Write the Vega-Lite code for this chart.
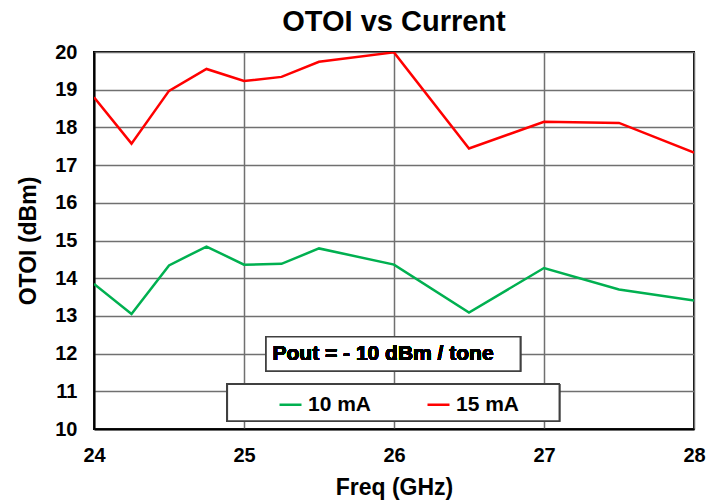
{
  "$schema": "https://vega.github.io/schema/vega-lite/v6.json",
  "width": 600,
  "height": 377,
  "autosize": {"type": "none"},
  "padding": {"left": 94, "top": 52, "right": 30, "bottom": 75},
  "background": "white",
  "title": {"text": "OTOI vs Current", "fontSize": 29, "font": "Liberation Sans", "fontWeight": "bold", "color": "black", "offset": 5, "anchor": "middle"},
  "config": {
    "font": "Liberation Sans",
    "view": {"stroke": "black", "strokeWidth": 2},
    "axis": {
      "domainColor": "black", "domainWidth": 2,
      "gridColor": "#707070", "gridWidth": 1.5, "gridOpacity": 1,
      "tickSize": 0, "labelOverlap": false, "labelFlush": false,
      "labelFont": "Liberation Sans", "labelFontSize": 20, "labelFontWeight": "bold", "labelColor": "black",
      "titleFont": "Liberation Sans", "titleFontSize": 23, "titleFontWeight": "bold", "titleColor": "black"
    }
  },
  "datasets": {
    "main": [
      {"freq": 24, "otoi": 13.85, "series": "10 mA"},
      {"freq": 24.25, "otoi": 13.05, "series": "10 mA"},
      {"freq": 24.5, "otoi": 14.34, "series": "10 mA"},
      {"freq": 24.75, "otoi": 14.84, "series": "10 mA"},
      {"freq": 25, "otoi": 14.36, "series": "10 mA"},
      {"freq": 25.25, "otoi": 14.38, "series": "10 mA"},
      {"freq": 25.5, "otoi": 14.79, "series": "10 mA"},
      {"freq": 26, "otoi": 14.36, "series": "10 mA"},
      {"freq": 26.5, "otoi": 13.09, "series": "10 mA"},
      {"freq": 27, "otoi": 14.27, "series": "10 mA"},
      {"freq": 27.5, "otoi": 13.7, "series": "10 mA"},
      {"freq": 28, "otoi": 13.41, "series": "10 mA"},
      {"freq": 24, "otoi": 18.8, "series": "15 mA"},
      {"freq": 24.25, "otoi": 17.57, "series": "15 mA"},
      {"freq": 24.5, "otoi": 18.97, "series": "15 mA"},
      {"freq": 24.75, "otoi": 19.55, "series": "15 mA"},
      {"freq": 25, "otoi": 19.23, "series": "15 mA"},
      {"freq": 25.25, "otoi": 19.34, "series": "15 mA"},
      {"freq": 25.5, "otoi": 19.74, "series": "15 mA"},
      {"freq": 26, "otoi": 19.99, "series": "15 mA"},
      {"freq": 26.5, "otoi": 17.44, "series": "15 mA"},
      {"freq": 27, "otoi": 18.15, "series": "15 mA"},
      {"freq": 27.5, "otoi": 18.12, "series": "15 mA"},
      {"freq": 28, "otoi": 17.33, "series": "15 mA"}
    ]
  },
  "data": {"name": "main"},
  "layer": [
    {
      "mark": {"type": "line", "strokeWidth": 2.5, "clip": true},
      "encoding": {
        "x": {"field": "freq", "type": "quantitative", "title": "Freq (GHz)",
              "scale": {"domain": [24, 28], "nice": false, "zero": false},
              "axis": {"values": [24, 25, 26, 27, 28], "labelPadding": 16, "titlePadding": 11, "format": "d"}},
        "y": {"field": "otoi", "type": "quantitative", "title": "OTOI (dBm)",
              "scale": {"domain": [10, 20], "nice": false, "zero": false},
              "axis": {"values": [10, 11, 12, 13, 14, 15, 16, 17, 18, 19, 20], "labelPadding": 17, "titlePadding": 14}},
        "color": {"field": "series", "type": "nominal", "title": null,
                  "scale": {"domain": ["10 mA", "15 mA"], "range": ["#00B050", "#FF0000"]},
                  "legend": {"orient": "none", "legendX": 184, "legendY": 340, "direction": "horizontal",
                             "symbolType": "stroke", "symbolSize": 484, "symbolStrokeWidth": 2.5,
                             "labelOffset": 5, "columnPadding": 50, "padding": 0,
                             "labelFont": "Liberation Sans", "labelFontSize": 21, "labelFontWeight": "bold", "labelColor": "black"}}
      }
    },
    {
      "mark": {"type": "rect", "fill": "white", "stroke": "#404040", "strokeWidth": 1.5},
      "encoding": {
        "x": {"datum": 25.147, "type": "quantitative", "axis": {"values": [24, 25, 26, 27, 28], "labelPadding": 16, "titlePadding": 11, "format": "d"}},
        "x2": {"datum": 26.842},
        "y": {"datum": 12.45, "type": "quantitative", "axis": {"values": [10, 11, 12, 13, 14, 15, 16, 17, 18, 19, 20], "labelPadding": 17, "titlePadding": 14}},
        "y2": {"datum": 11.54}
      }
    },
    {
      "mark": {"type": "text", "text": "Pout = - 10 dBm / tone", "align": "left", "baseline": "middle", "fontSize": 21, "fontWeight": "bold", "font": "Liberation Sans", "color": "black"},
      "encoding": {
        "x": {"datum": 25.19, "type": "quantitative", "axis": {"values": [24, 25, 26, 27, 28], "labelPadding": 16, "titlePadding": 11, "format": "d"}},
        "y": {"datum": 12.0, "type": "quantitative", "axis": {"values": [10, 11, 12, 13, 14, 15, 16, 17, 18, 19, 20], "labelPadding": 17, "titlePadding": 14}}
      }
    },
    {
      "mark": {"type": "rect", "fill": "white", "stroke": "#404040", "strokeWidth": 1.5},
      "encoding": {
        "x": {"datum": 24.889, "type": "quantitative", "axis": {"values": [24, 25, 26, 27, 28], "labelPadding": 16, "titlePadding": 11, "format": "d"}},
        "x2": {"datum": 27.102},
        "y": {"datum": 11.19, "type": "quantitative", "axis": {"values": [10, 11, 12, 13, 14, 15, 16, 17, 18, 19, 20], "labelPadding": 17, "titlePadding": 14}},
        "y2": {"datum": 10.21}
      }
    }
  ]
}
